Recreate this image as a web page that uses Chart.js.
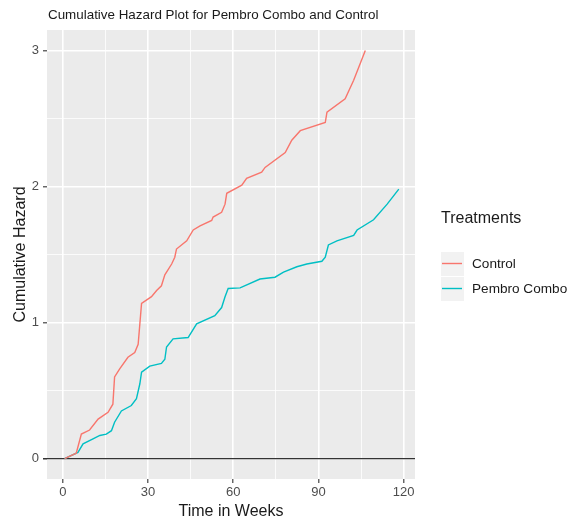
<!DOCTYPE html>
<html>
<head>
<meta charset="utf-8">
<script src="https://cdn.jsdelivr.net/npm/chart.js@4.4.1/dist/chart.umd.min.js"></script>
<style>
  body { margin: 0; background: #fff; }
  #wrap { width: 569px; height: 523px; }
</style>
</head>
<body>
<div id="wrap"><canvas id="hazChart"></canvas></div>
<script>
// cumulative hazard estimates (weeks, hazard)
var controlWeeks = [0.6, 4.7, 6.5, 9.4, 12.4, 15.9, 17.6, 18.2, 20, 22.9, 25.3, 26.5, 27.1, 27.7, 31.2, 33, 34.7, 35.9, 38.3, 39.4, 40, 43.6, 45.9, 48.3, 52.4, 52.9, 55.9, 57.1, 57.7, 63, 64.7, 70, 71.2, 78.3, 80.6, 83.6, 92.4, 93, 99.4, 102.4, 106.5];
var controlHazard = [0, 0.04, 0.18, 0.21, 0.29, 0.34, 0.40, 0.60, 0.66, 0.745, 0.78, 0.84, 0.99, 1.14, 1.19, 1.235, 1.27, 1.35, 1.43, 1.48, 1.54, 1.60, 1.68, 1.71, 1.75, 1.775, 1.81, 1.87, 1.95, 2.01, 2.06, 2.105, 2.14, 2.25, 2.34, 2.41, 2.47, 2.546, 2.645, 2.78, 3.0];
var comboWeeks = [0.6, 5.3, 7.1, 10.6, 13, 15.3, 17.1, 18.2, 20.6, 24.1, 25.9, 27.1, 27.7, 30.6, 34.7, 35.9, 36.5, 38.8, 44.1, 47.1, 53.5, 55.9, 57.1, 58.2, 62.4, 69.4, 74.7, 77.7, 82.4, 85.9, 91.2, 92.4, 93.5, 96.5, 102.4, 103.6, 109.4, 114.2, 118.3];
var comboHazard = [0, 0.046, 0.108, 0.145, 0.17, 0.18, 0.205, 0.267, 0.35, 0.39, 0.44, 0.55, 0.635, 0.68, 0.70, 0.73, 0.82, 0.88, 0.89, 0.99, 1.05, 1.11, 1.19, 1.25, 1.255, 1.32, 1.333, 1.37, 1.41, 1.43, 1.45, 1.48, 1.57, 1.60, 1.64, 1.68, 1.755, 1.87, 1.98];

var seriesNames = ["Control", "Pembro Combo"];
var seriesColors = ["#F8766D", "#00BFC4"];
var xTicks = [0, 30, 60, 90, 120];
var yTicks = [0, 1, 2, 3];

function toPoints(xs, ys) {
  return xs.map(function (x, i) { return {x: x, y: ys[i]}; });
}

var FONT = "'Liberation Sans', Arial, sans-serif";

// grey panel, zero line, titles and legend drawn on the canvas
var ggExtras = {
  id: "ggExtras",
  beforeDraw: function (chart) {
    var a = chart.chartArea, ctx = chart.ctx;
    ctx.save();
    ctx.fillStyle = "#EBEBEB";
    ctx.fillRect(a.left, a.top, a.right - a.left, a.bottom - a.top);
    ctx.restore();
  },
  beforeDatasetsDraw: function (chart) {
    var a = chart.chartArea, ctx = chart.ctx;
    var y0 = chart.scales.y.getPixelForValue(0);
    ctx.save();
    ctx.strokeStyle = "#333333";
    ctx.lineWidth = 1.4;
    ctx.beginPath();
    ctx.moveTo(a.left - 4, y0);
    ctx.lineTo(a.right, y0);
    ctx.stroke();
    ctx.restore();
  },
  afterDraw: function (chart) {
    var a = chart.chartArea, ctx = chart.ctx;
    ctx.save();
    ctx.fillStyle = "#1a1a1a";
    ctx.textBaseline = "middle";
    ctx.font = "13.4px " + FONT;
    ctx.textAlign = "left";
    ctx.fillText("Cumulative Hazard Plot for Pembro Combo and Control", a.left + 1, 15);

    ctx.font = "16px " + FONT;
    ctx.textAlign = "center";
    ctx.fillText("Time in Weeks", (a.left + a.right) / 2, 512);
    ctx.save();
    ctx.translate(21, (a.top + a.bottom) / 2);
    ctx.rotate(-Math.PI / 2);
    ctx.fillText("Cumulative Hazard", 0, 0);
    ctx.restore();

    // legend
    ctx.textAlign = "left";
    ctx.font = "16px " + FONT;
    ctx.fillText("Treatments", 441, 219);
    ctx.font = "13.6px " + FONT;
    for (var i = 0; i < seriesNames.length; i++) {
      var top = 252 + i * 25;
      ctx.fillStyle = "#F2F2F2";
      ctx.fillRect(441, top, 23, 24);
      ctx.strokeStyle = seriesColors[i];
      ctx.lineWidth = 1.4;
      ctx.beginPath();
      ctx.moveTo(442, top + 11.5);
      ctx.lineTo(462, top + 11.5);
      ctx.stroke();
      ctx.fillStyle = "#1a1a1a";
      ctx.fillText(seriesNames[i], 472, top + 12);
    }
    ctx.restore();
  }
};

function majorTick(list) {
  return function (c) {
    return c.tick && list.indexOf(c.tick.value) !== -1;
  };
}
var isMajorX = majorTick(xTicks);
var isMajorY = majorTick(yTicks);

new Chart("hazChart", {
  type: "line",
  data: {
    datasets: [
      {
        label: seriesNames[0],
        data: toPoints(controlWeeks, controlHazard),
        borderColor: seriesColors[0],
        borderWidth: 1.4,
        pointRadius: 0,
        tension: 0
      },
      {
        label: seriesNames[1],
        data: toPoints(comboWeeks, comboHazard),
        borderColor: seriesColors[1],
        borderWidth: 1.4,
        pointRadius: 0,
        tension: 0
      }
    ]
  },
  plugins: [ggExtras],
  options: {
    responsive: true,
    maintainAspectRatio: false,
    animation: false,
    layout: {padding: {top: 30, right: 154, left: 0, bottom: 0}},
    plugins: {
      legend: {display: false},
      title: {display: false},
      tooltip: {enabled: false}
    },
    scales: {
      x: {
        type: "linear",
        min: -5.6,
        max: 124,
        afterFit: function (s) { s.height = 44; },
        afterBuildTicks: function (s) {
          s.ticks = [0, 15, 30, 45, 60, 75, 90, 105, 120].map(function (v) { return {value: v}; });
        },
        border: {display: false},
        grid: {
          color: "#FFFFFF",
          lineWidth: function (c) { return isMajorX(c) ? 1.6 : 0.8; },
          tickLength: 4,
          tickColor: function (c) { return isMajorX(c) ? "#333333" : "rgba(0,0,0,0)"; },
          tickWidth: 1.1
        },
        ticks: {
          color: "#4D4D4D",
          font: {family: FONT, size: 13},
          padding: 2,
          maxRotation: 0,
          autoSkip: false,
          callback: function (v) { return xTicks.indexOf(v) !== -1 ? String(v) : ""; }
        }
      },
      y: {
        type: "linear",
        min: -0.15,
        max: 3.15,
        afterFit: function (s) { s.width = 47; },
        afterBuildTicks: function (s) {
          s.ticks = [0, 0.5, 1, 1.5, 2, 2.5, 3].map(function (v) { return {value: v}; });
        },
        border: {display: false},
        grid: {
          color: "#FFFFFF",
          lineWidth: function (c) { return isMajorY(c) ? 1.6 : 0.8; },
          tickLength: 4,
          tickColor: function (c) { return isMajorY(c) ? "#333333" : "rgba(0,0,0,0)"; },
          tickWidth: 1.1
        },
        ticks: {
          color: "#4D4D4D",
          font: {family: FONT, size: 13},
          padding: 4,
          autoSkip: false,
          callback: function (v) { return yTicks.indexOf(v) !== -1 ? String(v) : ""; }
        }
      }
    }
  }
});
</script>
</body>
</html>
